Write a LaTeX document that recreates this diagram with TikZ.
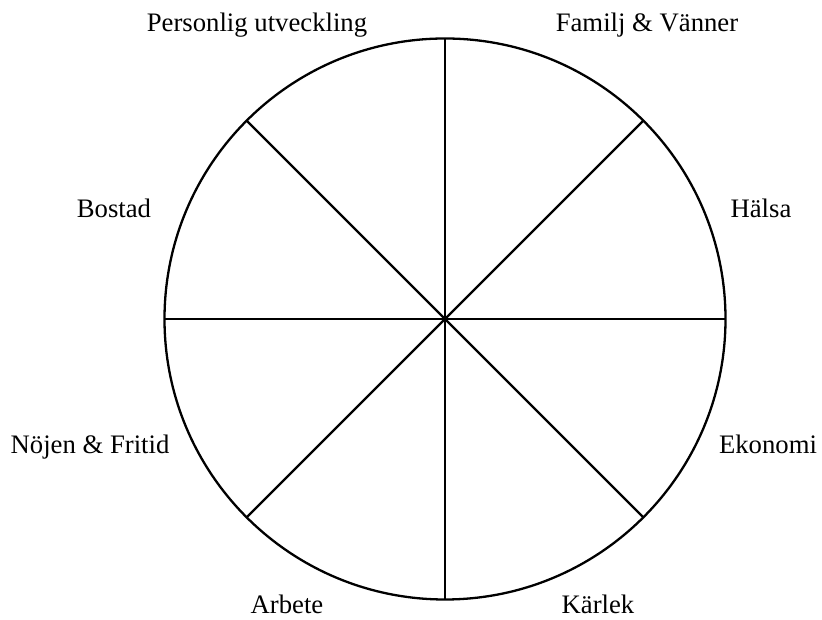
\documentclass[tikz,border=0pt]{standalone}
\usepackage{fontspec}
\setmainfont{Liberation Serif}
\usetikzlibrary{positioning}

\begin{document}
\begin{tikzpicture}[
      x=1pt, y=1pt,
      font=\fontsize{26.7}{30}\selectfont,
      wheel/.style={draw, circle, line width=2.3pt, minimum size=561pt, inner sep=0pt, outer sep=0pt},
      spoke/.style={line width=2.3pt},
      lbl/.style={inner sep=0pt, anchor=base}
    ]
    \useasboundingbox (0,0) rectangle (822,620);
    \node[wheel] (w) at (445,301) {};

    \node[lbl] (pers) at (257,588) {Personlig utveckling};
    \node[lbl] (fam) at (647,588) {Familj \& Vänner};
    \node[lbl] (hal) at (761,402) {Hälsa};
    \node[lbl] (bos) at (114,402) {Bostad};
    \node[lbl] (noj) at (90,166) {Nöjen \& Fritid};
    \node[lbl] (eko) at (768,166) {Ekonomi};
    \node[lbl] (arb) at (287,6) {Arbete};
    \node[lbl] (kar) at (598,6) {Kärlek};

    \foreach \a in {0,45,...,315} {\draw[spoke] (w.center) -- (w.\a);}
  \end{tikzpicture}
\end{document}
